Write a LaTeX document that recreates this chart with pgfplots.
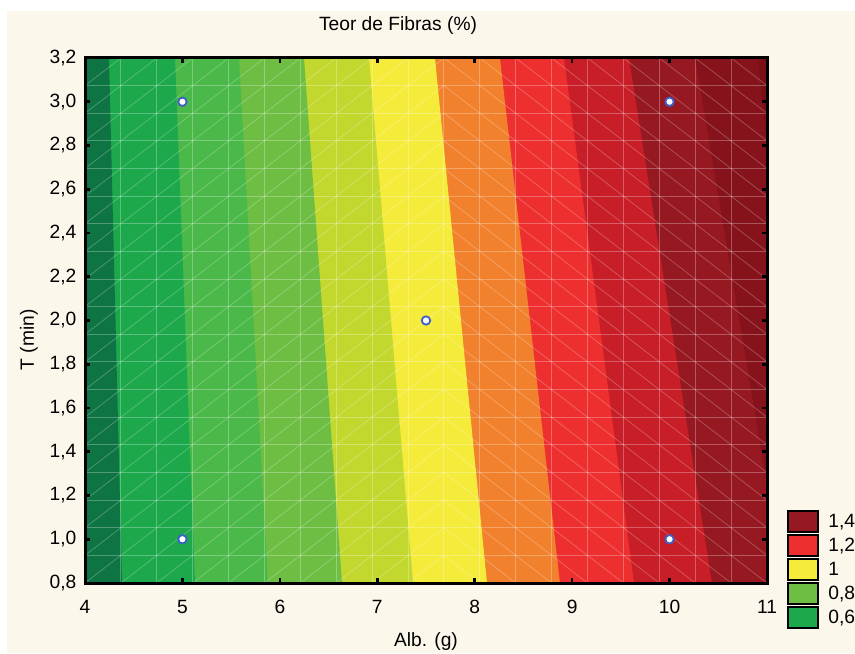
\documentclass[border=0pt]{standalone}
\usepackage{fontspec}
\setmainfont{Liberation Sans}
\usepackage{pgfplots}
\pgfplotsset{compat=1.18}

% page and contour band colours
\definecolor{bgcream}{HTML}{FCF7EB}
\definecolor{z01}{HTML}{0F7444}
\definecolor{z02}{HTML}{1CA84B}
\definecolor{z03}{HTML}{4BB84A}
\definecolor{z04}{HTML}{6EBE44}
\definecolor{z05}{HTML}{C3D82F}
\definecolor{z06}{HTML}{F5EB3B}
\definecolor{z07}{HTML}{F2812D}
\definecolor{z08}{HTML}{EE2F2F}
\definecolor{z09}{HTML}{C81E27}
\definecolor{z10}{HTML}{961820}
\definecolor{z11}{HTML}{86131B}
\definecolor{z12}{HTML}{7A1016}
\definecolor{ptblue}{HTML}{3E5EC8}

\newcommand\chartfont{\fontsize{9.6pt}{11pt}\selectfont}

\tikzset{
  meshline/.style={white, opacity=0.28, line width=0.5pt},
  meshdiag/.style={white, opacity=0.24, line width=0.4pt},
}

\begin{document}
\begin{tikzpicture}
\path[use as bounding box, fill=white] (-42.5pt,-35pt) rectangle (385pt,291.5pt);
\fill[bgcream] (-39pt,-35pt) rectangle (385pt,286pt);
\begin{axis}[
  at={(0,0)}, anchor=south west,
  scale only axis, width=341pt, height=262.5pt,
  xmin=4, xmax=11, ymin=0.8, ymax=3.2,
  xtick={4,...,11},
  ytick={0.8,1,1.2,1.4,1.6,1.8,2,2.2,2.4,2.6,2.8,3,3.2},
  /pgf/number format/assume math mode=true,
  /pgf/number format/use comma,
  yticklabel style={/pgf/number format/fixed, /pgf/number format/fixed zerofill,
    /pgf/number format/precision=1, xshift=-0.8pt},
  xticklabel style={yshift=-5pt},
  tick label style={font=\chartfont},
  tick align=inside,
  major tick length=2.5pt,
  tick style={black, line width=1.3pt},
  axis line style={black, line width=1.5pt},
  axis on top,
  title={Teor de Fibras (\%)},
  title style={font=\chartfont, at={(0.459,1)}, anchor=base, yshift=7.5pt},
  xlabel={Alb. (g)},
  xlabel style={font=\chartfont, at={(0.5,0)}, anchor=base, yshift=-31.5pt},
  ylabel={T (min)},
  ylabel style={font=\chartfont, at={(-0.0748,0.463)}, anchor=base},
  legend image code/.code={%
    \draw[#1, draw=black, line width=1pt] (0pt,-5.25pt) rectangle (15pt,5.25pt);
    \path[draw=none, fill=none] (15pt,-0.5pt) rectangle (20pt,0.5pt);},
  legend cell align=left,
  legend style={at={(1.0293,0.139)}, anchor=north west, draw=none, fill=none,
    inner sep=0pt, font=\chartfont, row sep=0.5pt,
    nodes={inner sep=0pt}},
]

% filled bands, each one covering everything left of its upper contour
\addplot[fill=z12, draw=none, forget plot] coordinates {(4,0.8) (11,0.8) (11,3.2) (4,3.2)} -- cycle;
\addplot[fill=z11, draw=none, forget plot] coordinates {(4,0.8) (11,0.8) (11,2.80) (10.908,3.2) (4,3.2)} -- cycle;
\addplot[fill=z10, draw=none, forget plot] coordinates {(4,0.8) (11,0.8) (11,1.25) (10.261,3.2) (4,3.2)} -- cycle;
\addplot[fill=z09, draw=none, forget plot] coordinates {(4,0.8) (10.435,0.8) (9.583,3.2) (4,3.2)} -- cycle;
\addplot[fill=z08, draw=none, forget plot] coordinates {(4,0.8) (9.635,0.8) (8.916,3.2) (4,3.2)} -- cycle;
\addplot[fill=z07, draw=none, forget plot] coordinates {(4,0.8) (8.875,0.8) (8.259,3.2) (4,3.2)} -- cycle;
\addplot[fill=z06, draw=none, forget plot] coordinates {(4,0.8) (8.126,0.8) (7.592,3.2) (4,3.2)} -- cycle;
\addplot[fill=z05, draw=none, forget plot] coordinates {(4,0.8) (7.367,0.8) (6.915,3.2) (4,3.2)} -- cycle;
\addplot[fill=z04, draw=none, forget plot] coordinates {(4,0.8) (6.638,0.8) (6.248,3.2) (4,3.2)} -- cycle;
\addplot[fill=z03, draw=none, forget plot] coordinates {(4,0.8) (5.878,0.8) (5.581,3.2) (4,3.2)} -- cycle;
\addplot[fill=z02, draw=none, forget plot] coordinates {(4,0.8) (5.129,0.8) (4.924,3.2) (4,3.2)} -- cycle;
\addplot[fill=z01, draw=none, forget plot] coordinates {(4,0.8) (4.380,0.8) (4.246,3.2) (4,3.2)} -- cycle;

% triangulation mesh of the fitted surface
\pgfplotsinvokeforeach{1,...,18}{
  \draw[meshline] (axis cs:{4+#1*7/19},0.8) -- (axis cs:{4+#1*7/19},3.2);
  \draw[meshline] (axis cs:4,{0.8+#1*2.4/19}) -- (axis cs:11,{0.8+#1*2.4/19});
}
\pgfplotsinvokeforeach{-18,...,9}{
  \draw[meshdiag] (axis cs:{4+max(0,#1)*7/19},{0.8+(max(0,#1)-(#1))*2.4/19})
    -- (axis cs:{4+min(10,19+#1)*7/19},{0.8+(min(10,19+#1)-(#1))*2.4/19});
}
\pgfplotsinvokeforeach{11,...,37}{
  \draw[meshdiag] (axis cs:{4+max(10,#1-19)*7/19},{0.8+(#1-max(10,#1-19))*2.4/19})
    -- (axis cs:{4+min(19,#1)*7/19},{0.8+(#1-min(19,#1))*2.4/19});
}

% design points
\addplot[only marks, mark=*, mark size=2.1pt,
  mark options={fill=white, draw=ptblue, line width=0.9pt}, forget plot]
  coordinates {(5,3) (10,3) (7.5,2) (5,1) (10,1)};

\addlegendimage{fill=z10}\addlegendentry{1,4}
\addlegendimage{fill=z08}\addlegendentry{1,2}
\addlegendimage{fill=z06}\addlegendentry{1}
\addlegendimage{fill=z04}\addlegendentry{0,8}
\addlegendimage{fill=z02}\addlegendentry{0,6}
\end{axis}
\end{tikzpicture}
\end{document}
